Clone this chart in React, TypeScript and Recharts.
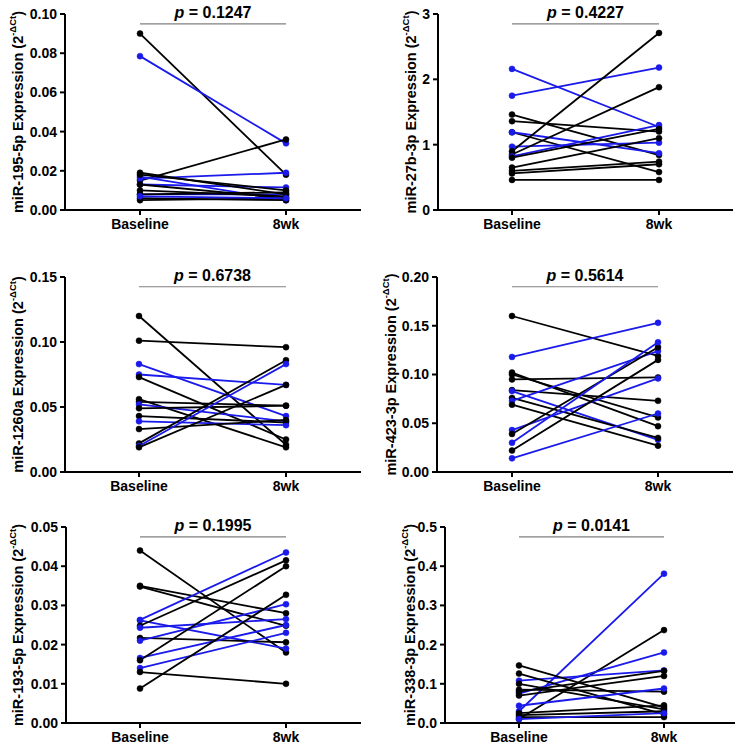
import React from "react";
import { LineChart, Line, XAxis, YAxis, ReferenceLine } from "recharts";

const categories = ["Baseline", "8wk"];
const BLACK = "#000000";
const BLUE = "#1a1aeb";

// Panel 1: miR-195-5p
const p1Base = [0.090, 0.0785, 0.015, 0.016, 0.013, 0.017, 0.008, 0.019, 0.018, 0.013, 0.010, 0.008, 0.006, 0.005, 0.007];
const p1Wk8 = [0.018, 0.034, 0.036, 0.019, 0.0115, 0.005, 0.008, 0.008, 0.010, 0.006, 0.007, 0.009, 0.005, 0.006, 0.006];
const p1Col = ["k", "b", "k", "b", "b", "b", "b", "k", "k", "k", "k", "k", "k", "k", "b"];

// Panel 2: miR-27b-3p
const p2Base = [2.16, 1.75, 1.46, 1.36, 1.19, 1.19, 0.97, 0.90, 0.85, 0.82, 0.80, 0.65, 0.60, 0.56, 0.46];
const p2Wk8 = [1.27, 2.18, 0.84, 1.20, 0.58, 0.87, 1.03, 2.71, 1.88, 1.30, 1.24, 1.10, 0.74, 0.70, 0.46];
const p2Col = ["b", "b", "k", "k", "k", "b", "b", "k", "k", "b", "k", "k", "k", "k", "k"];

// Panel 3: miR-1260a
const p3Base = [0.120, 0.101, 0.083, 0.075, 0.073, 0.056, 0.054, 0.052, 0.049, 0.043, 0.039, 0.033, 0.022, 0.020, 0.019];
const p3Wk8 = [0.021, 0.096, 0.043, 0.067, 0.025, 0.019, 0.051, 0.039, 0.051, 0.038, 0.036, 0.040, 0.086, 0.083, 0.067];
const p3Col = ["k", "k", "b", "b", "k", "k", "k", "b", "k", "k", "b", "k", "k", "b", "k"];

// Panel 4: miR-423-3p
const p4Base = [0.160, 0.118, 0.102, 0.100, 0.095, 0.084, 0.083, 0.076, 0.073, 0.069, 0.043, 0.039, 0.030, 0.022, 0.014];
const p4Wk8 = [0.119, 0.153, 0.047, 0.056, 0.097, 0.073, 0.033, 0.035, 0.124, 0.027, 0.096, 0.128, 0.133, 0.115, 0.060];
const p4Col = ["k", "b", "k", "k", "k", "k", "b", "k", "b", "k", "b", "k", "b", "k", "b"];

// Panel 5: miR-193-5p
const p5Base = [0.044, 0.035, 0.0348, 0.0263, 0.0262, 0.0248, 0.0243, 0.0217, 0.021, 0.0166, 0.016, 0.014, 0.013, 0.0088];
const p5Wk8 = [0.018, 0.028, 0.0248, 0.0435, 0.019, 0.0415, 0.0265, 0.0206, 0.0303, 0.025, 0.040, 0.023, 0.010, 0.0327];
const p5Col = ["k", "k", "k", "b", "b", "k", "b", "k", "b", "b", "k", "b", "k", "k"];

// Panel 6: miR-338-3p
const p6Base = [0.030, 0.010, 0.075, 0.108, 0.080, 0.147, 0.126, 0.100, 0.085, 0.070, 0.044, 0.025, 0.020, 0.015, 0.010];
const p6Wk8 = [0.381, 0.237, 0.180, 0.134, 0.133, 0.040, 0.022, 0.035, 0.080, 0.120, 0.088, 0.045, 0.030, 0.015, 0.025];
const p6Col = ["b", "k", "b", "b", "k", "k", "k", "k", "k", "k", "b", "k", "k", "k", "b"];

const FONT = "'Liberation Sans', Arial, Helvetica, sans-serif";

type PanelDef = {
  name: string;
  base: number[];
  wk8: number[];
  colors: string[];
  ticks: number[];
  decimals: number;
  pValue: string;
  barY: number;
  left: number;
  top: number;
  yAxisWidth: number;
  marginTop: number;
  marginRight: number;
  xAxisHeight: number;
  padLeft: number;
  padRight: number;
  labelX: number;
};

const panels: PanelDef[] = [
  { name: "miR-195-5p", base: p1Base, wk8: p1Wk8, colors: p1Col, ticks: [0, 0.02, 0.04, 0.06, 0.08, 0.1], decimals: 2, pValue: "0.1247", barY: 0.095,
    left: 0, top: 0, yAxisWidth: 65, marginTop: 14, marginRight: 12, xAxisHeight: 40, padLeft: 75, padRight: 75, labelX: 18 },
  { name: "miR-27b-3p", base: p2Base, wk8: p2Wk8, colors: p2Col, ticks: [0, 1, 2, 3], decimals: 0, pValue: "0.4227", barY: 2.85,
    left: 373, top: 0, yAxisWidth: 65, marginTop: 14, marginRight: 13, xAxisHeight: 40, padLeft: 74, padRight: 74, labelX: 38 },
  { name: "miR-1260a", base: p3Base, wk8: p3Wk8, colors: p3Col, ticks: [0, 0.05, 0.1, 0.15], decimals: 2, pValue: "0.6738", barY: 0.1425,
    left: 0, top: 250, yAxisWidth: 65, marginTop: 27, marginRight: 12, xAxisHeight: 28, padLeft: 74, padRight: 75, labelX: 18 },
  { name: "miR-423-3p", base: p4Base, wk8: p4Wk8, colors: p4Col, ticks: [0, 0.05, 0.1, 0.15, 0.2], decimals: 2, pValue: "0.5614", barY: 0.19,
    left: 373, top: 250, yAxisWidth: 64, marginTop: 27, marginRight: 13, xAxisHeight: 28, padLeft: 75, padRight: 75, labelX: 18 },
  { name: "miR-193-5p", base: p5Base, wk8: p5Wk8, colors: p5Col, ticks: [0, 0.01, 0.02, 0.03, 0.04, 0.05], decimals: 2, pValue: "0.1995", barY: 0.0475,
    left: 0, top: 499, yAxisWidth: 66, marginTop: 28, marginRight: 12, xAxisHeight: 26, padLeft: 74, padRight: 75, labelX: 18 },
  { name: "miR-338-3p", base: p6Base, wk8: p6Wk8, colors: p6Col, ticks: [0, 0.1, 0.2, 0.3, 0.4, 0.5], decimals: 1, pValue: "0.0141", barY: 0.475,
    left: 373, top: 499, yAxisWidth: 72, marginTop: 28, marginRight: 11, xAxisHeight: 26, padLeft: 74, padRight: 71, labelX: 37 },
];

function Panel({ p }: { p: PanelDef }) {
  const data = categories.map((c, ci) => {
    const row: Record<string, number | string> = { name: c };
    p.base.forEach((v, i) => {
      row["s" + i] = ci === 0 ? v : p.wk8[i];
    });
    return row;
  });
  const yMax = p.ticks[p.ticks.length - 1];
  const plotTop = p.marginTop;
  const plotBottom = 250 - p.xAxisHeight;
  const labelY = (plotTop + plotBottom) / 2;

  const yLabel = () => (
    <text
      x={p.labelX}
      y={labelY}
      transform={`rotate(-90, ${p.labelX}, ${labelY})`}
      textAnchor="middle"
      dominantBaseline="central"
      fontFamily={FONT}
      fontWeight="bold"
      fontSize={14.5}
      fill="#000"
    >
      {p.name} Expression (2
      <tspan fontSize={9.5} dy={-6}>-ΔCt</tspan>
      <tspan dy={6}>)</tspan>
    </text>
  );

  const pLabel = (props: any) => {
    const vb = props.viewBox || {};
    const cx = (vb.x ?? 0) + (vb.width ?? 0) / 2;
    const y = (vb.y ?? 0) - 6;
    return (
      <text x={cx} y={y} textAnchor="middle" fontFamily={FONT} fontWeight="bold" fontSize={16} fill="#000">
        <tspan fontStyle="italic">p</tspan> = {p.pValue}
      </text>
    );
  };

  return (
    <div style={{ position: "absolute", left: p.left, top: p.top, width: 373, height: 250 }}>
      <LineChart
        width={373}
        height={250}
        data={data}
        margin={{ top: p.marginTop, right: p.marginRight, bottom: 0, left: 0 }}
      >
        <XAxis
          dataKey="name"
          scale="point"
          padding={{ left: p.padLeft, right: p.padRight }}
          height={p.xAxisHeight}
          axisLine={{ stroke: "#000", strokeWidth: 2 }}
          tickLine={{ stroke: "#000", strokeWidth: 2 }}
          tickSize={5}
          tickMargin={4}
          tick={{ fill: "#000", fontFamily: FONT, fontWeight: "bold", fontSize: 14 }}
          interval={0}
        />
        <YAxis
          domain={[0, yMax]}
          ticks={p.ticks}
          width={p.yAxisWidth}
          allowDataOverflow
          axisLine={{ stroke: "#000", strokeWidth: 2 }}
          tickLine={{ stroke: "#000", strokeWidth: 2 }}
          tickSize={5}
          tickMargin={3}
          tick={{ fill: "#000", fontFamily: FONT, fontWeight: "bold", fontSize: 14 }}
          tickFormatter={(v: number) => v.toFixed(p.decimals)}
          interval={0}
          label={yLabel}
        />
        <ReferenceLine
          segment={[{ x: categories[0], y: p.barY }, { x: categories[1], y: p.barY }]}
          stroke="#808080"
          strokeWidth={1.2}
          ifOverflow="visible"
          label={pLabel}
        />
        {p.base.map((_, i) => {
          const color = p.colors[i] === "b" ? BLUE : BLACK;
          return (
            <Line
              key={i}
              dataKey={"s" + i}
              stroke={color}
              strokeWidth={1.8}
              dot={{ r: 3, fill: color, stroke: color, strokeWidth: 0.5 }}
              activeDot={false}
              isAnimationActive={false}
              type="linear"
            />
          );
        })}
      </LineChart>
    </div>
  );
}

export default function App() {
  return (
    <div style={{ position: "absolute", left: 0, top: 0, width: 746, height: 749, background: "#fff" }}>
      {panels.map((p, i) => (
        <Panel key={i} p={p} />
      ))}
    </div>
  );
}
